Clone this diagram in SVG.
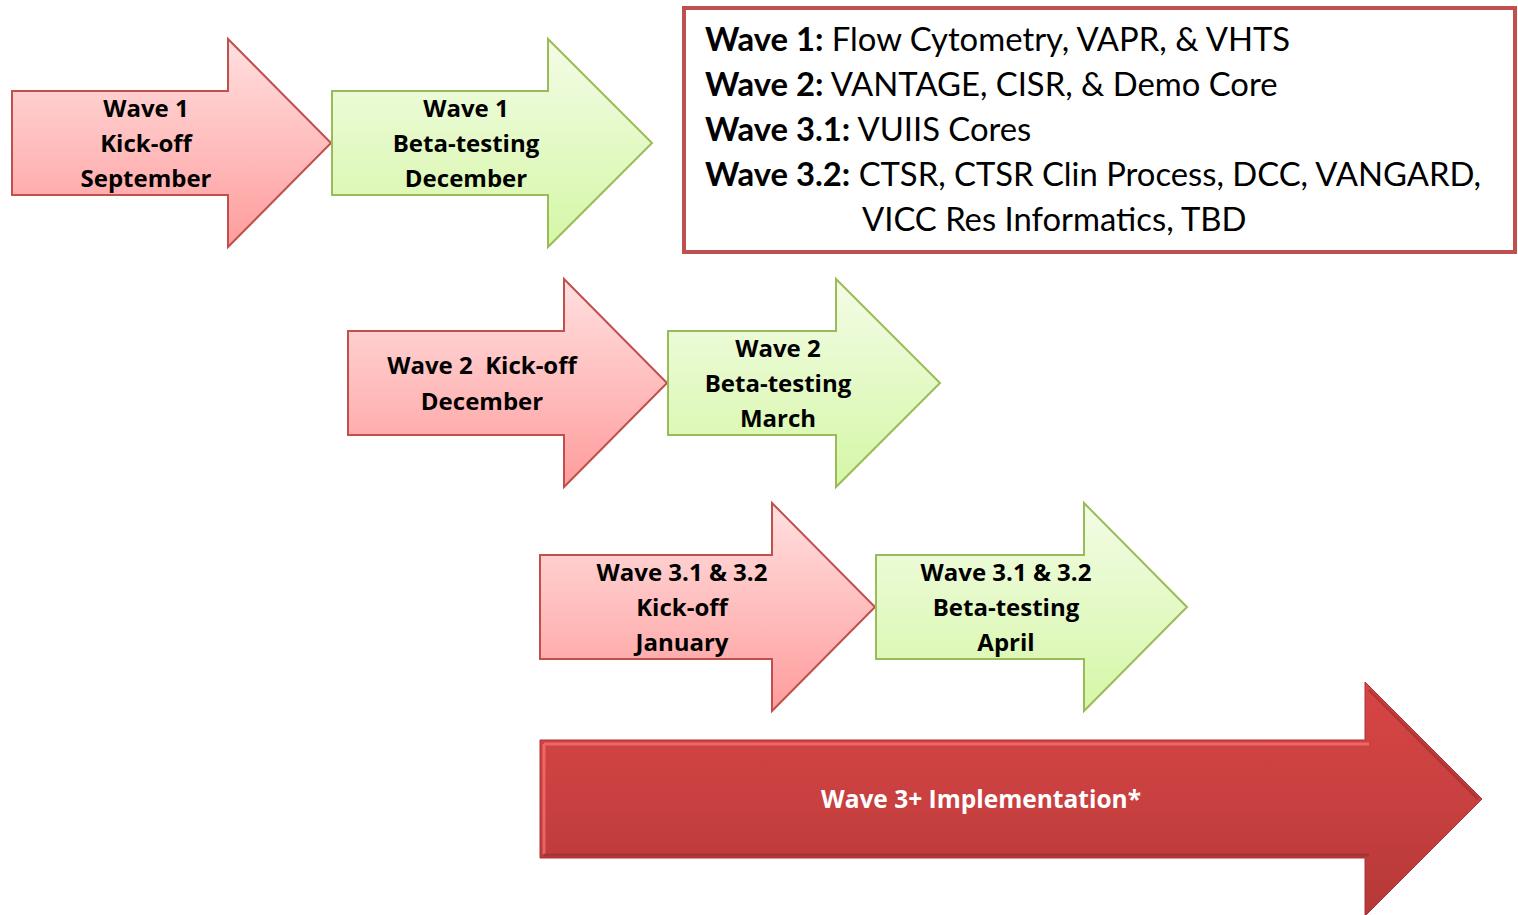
<svg xmlns="http://www.w3.org/2000/svg" width="1518" height="915" viewBox="0 0 1518 915">
<defs>
<linearGradient id="gr" x1="0" y1="0" x2="0" y2="1"><stop offset="0" stop-color="#ffe0e0"/><stop offset="1" stop-color="#ff9c9c"/></linearGradient>
<linearGradient id="gg" x1="0" y1="0" x2="0" y2="1"><stop offset="0" stop-color="#f3fce6"/><stop offset="1" stop-color="#d5f7a6"/></linearGradient>
<linearGradient id="gb" x1="0" y1="0" x2="0" y2="1"><stop offset="0" stop-color="#d84545"/><stop offset="0.5" stop-color="#c94040"/><stop offset="1" stop-color="#b53838"/></linearGradient>
<style>
.r{fill:url(#gr);stroke:#c0504d;stroke-width:2}
.g{fill:url(#gg);stroke:#9bbb59;stroke-width:2}
.t{font-family:"Open Sans",Lato,sans-serif;font-weight:bold;font-size:24px;fill:#000;text-anchor:middle}
.w{font-family:"Open Sans",Lato,sans-serif;font-weight:bold;font-size:24.5px;fill:#fff;text-anchor:middle}
.bx{font-family:Lato,"Open Sans",sans-serif;font-size:32.8px;fill:#000}
.b{font-weight:bold}
</style>
</defs>
<g id="legend">
<rect x="684" y="8" width="831" height="244" fill="#fff" stroke="#c0504d" stroke-width="4"/>
<text class="bx" x="705" y="51"><tspan class="b">Wave 1:</tspan> Flow Cytometry, VAPR, &amp; VHTS</text>
<text class="bx" x="705" y="96"><tspan class="b">Wave 2:</tspan> VANTAGE, CISR, &amp; Demo Core</text>
<text class="bx" x="705" y="141"><tspan class="b">Wave 3.1:</tspan> VUIIS Cores</text>
<text class="bx" x="705" y="186"><tspan class="b">Wave 3.2:</tspan> CTSR, CTSR Clin Process, DCC, VANGARD,</text>
<text class="bx" x="862" y="231">VICC Res Informatics, TBD</text>
</g>
<g id="w1-kickoff">
<path class="r" d="M12,91 H228 V39 L331,143 L228,247 V195 H12 Z"/>
<text class="t" x="146" y="117">Wave 1</text>
<text class="t" x="146" y="152">Kick-off</text>
<text class="t" x="146" y="187">September</text>
</g>
<g id="w1-beta">
<path class="g" d="M332,91 H548 V39 L652,143 L548,247 V195 H332 Z"/>
<text class="t" x="466" y="117">Wave 1</text>
<text class="t" x="466" y="152">Beta-testing</text>
<text class="t" x="466" y="187">December</text>
</g>
<g id="w2-kickoff">
<path class="r" d="M348,331 H564 V279 L667,383 L564,487 V435 H348 Z"/>
<text class="t" x="482" y="374" xml:space="preserve">Wave 2  Kick-off</text>
<text class="t" x="482" y="410">December</text>
</g>
<g id="w2-beta">
<path class="g" d="M668,331 H836 V279 L940,383 L836,487 V435 H668 Z"/>
<text class="t" x="778" y="357">Wave 2</text>
<text class="t" x="778" y="392">Beta-testing</text>
<text class="t" x="778" y="427">March</text>
</g>
<g id="w3-kickoff">
<path class="r" d="M540,555 H772 V503 L875,607 L772,711 V659 H540 Z"/>
<text class="t" x="682" y="581">Wave 3.1 &amp; 3.2</text>
<text class="t" x="682" y="616">Kick-off</text>
<text class="t" x="682" y="651">January</text>
</g>
<g id="w3-beta">
<path class="g" d="M876,555 H1084 V503 L1187,607 L1084,711 V659 H876 Z"/>
<text class="t" x="1006" y="581">Wave 3.1 &amp; 3.2</text>
<text class="t" x="1006" y="616">Beta-testing</text>
<text class="t" x="1006" y="651">April</text>
</g>
<g id="w3-impl">
<path d="M540,740 H1365 V682 L1482,799 L1365,916 V858 H540 Z" fill="url(#gb)" stroke="#a83232" stroke-width="1"/>
<path d="M544,744 H1369 M544,744 V854" stroke="#ff8080" stroke-width="3" fill="none" opacity="0.6"/>
<path d="M544,855 H1369 M1369,690 L1478,799" stroke="#8f2a2a" stroke-width="3" fill="none" opacity="0.5"/>
<text class="w" x="981" y="808">Wave 3+ Implementation*</text>
</g>
</svg>
